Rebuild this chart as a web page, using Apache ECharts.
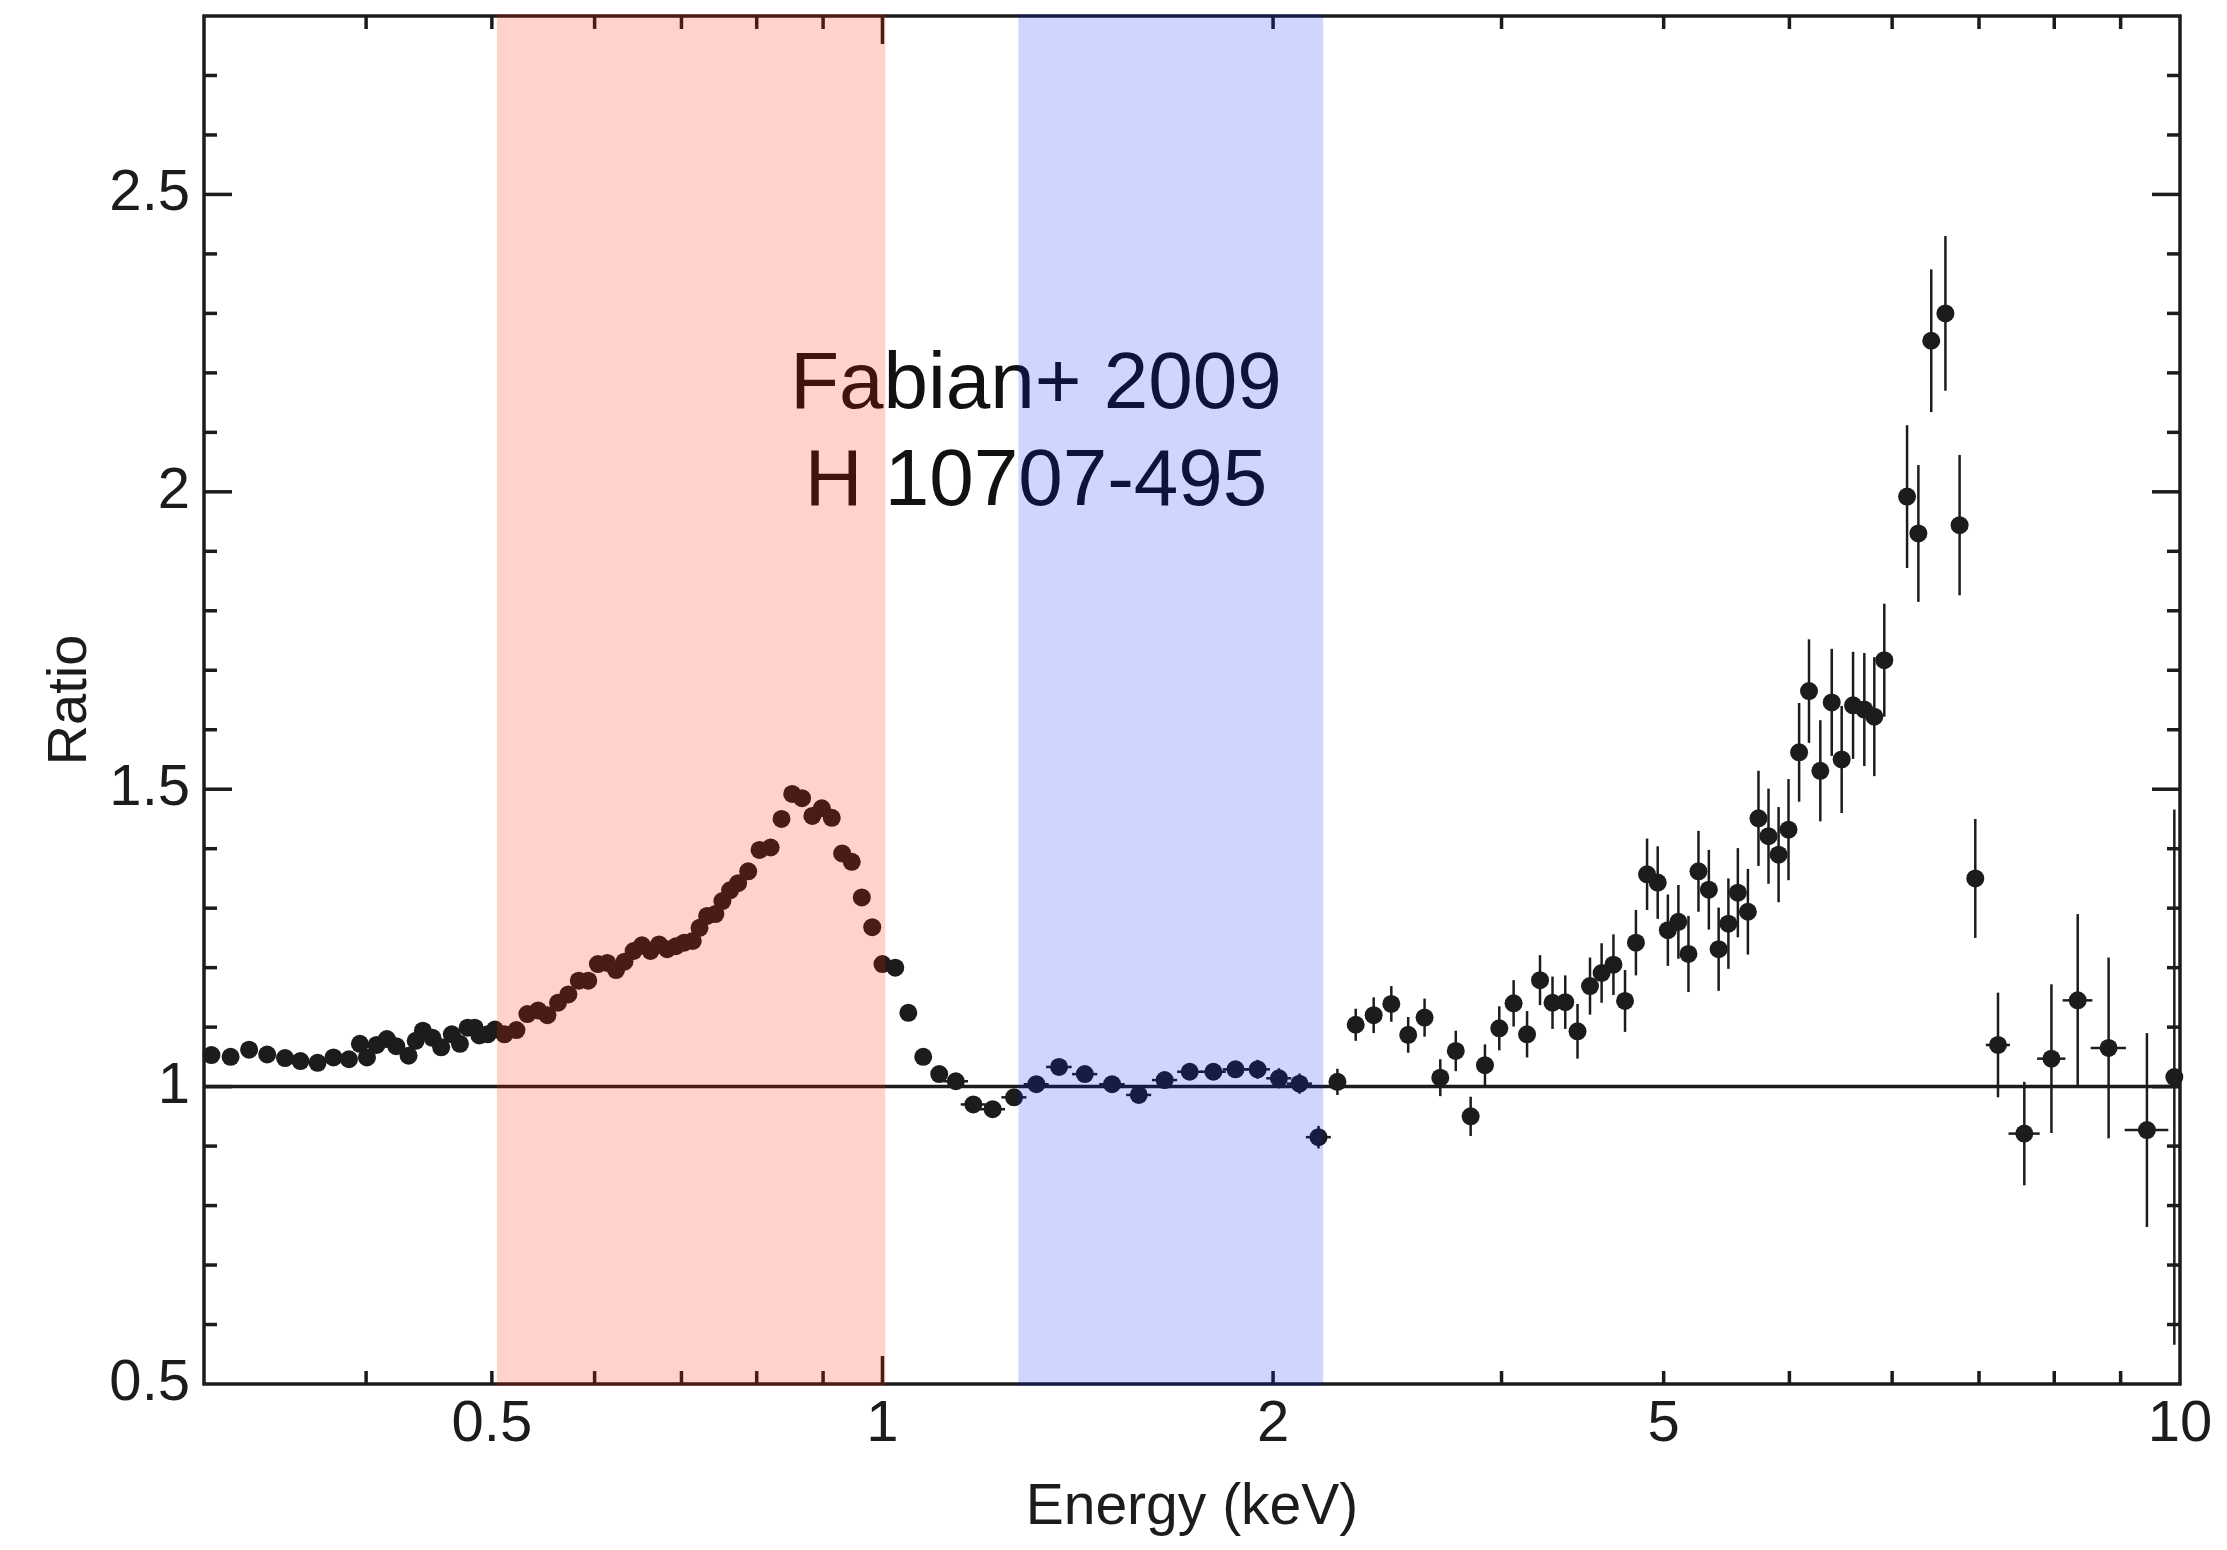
<!DOCTYPE html>
<html>
<head>
<meta charset="utf-8">
<script src="https://cdn.jsdelivr.net/npm/echarts@6/dist/echarts.min.js"></script>
<style>
  html, body { margin: 0; padding: 0; background: #ffffff; }
  #chart { width: 2227px; height: 1550px; }
</style>
</head>
<body>
<div id="chart"></div>
<script>
// Spectral ratio (data / power-law model) vs energy.

// Soft part: statistical errors smaller than the markers
const softEnergy = [0.304, 0.3145, 0.325, 0.3356, 0.3464, 0.356, 0.367, 0.3775, 0.388, 0.3956,
  0.4006, 0.4075, 0.415, 0.422, 0.4313, 0.4368, 0.4424, 0.450, 0.457, 0.4657,
  0.4725, 0.479, 0.485, 0.489, 0.4963, 0.5027, 0.5113, 0.5223, 0.5325, 0.5428,
  0.5518, 0.5623, 0.5727, 0.5834, 0.5933, 0.6035, 0.6137, 0.6233, 0.6327, 0.643,
  0.6526, 0.6626, 0.6727, 0.6825, 0.6931, 0.7034, 0.7142, 0.7228, 0.7326, 0.7434,
  0.7527, 0.763, 0.774, 0.788, 0.804, 0.820, 0.836, 0.852, 0.867, 0.883,
  0.898, 0.914, 0.931, 0.947, 0.964, 0.982, 1.0, 1.023, 1.047, 1.075, 1.106];
const softRatio = [1.053, 1.050, 1.062, 1.054, 1.048, 1.043, 1.040, 1.049, 1.046, 1.072,
  1.049, 1.070, 1.080, 1.068, 1.052, 1.077, 1.094, 1.082, 1.066, 1.088,
  1.072, 1.099, 1.099, 1.086, 1.088, 1.096, 1.088, 1.095, 1.122, 1.128,
  1.120, 1.141, 1.155, 1.178, 1.178, 1.206, 1.208, 1.196, 1.210, 1.228,
  1.2375, 1.228, 1.239, 1.231, 1.236, 1.242, 1.245, 1.267, 1.287, 1.290,
  1.312, 1.330, 1.342, 1.362, 1.398, 1.402, 1.450, 1.492, 1.485, 1.455,
  1.468, 1.452, 1.392, 1.378, 1.318, 1.268, 1.206, 1.200, 1.124, 1.050, 1.021];

// 1.1 - 2.2 keV
const midEnergy = [1.139, 1.175, 1.216, 1.263, 1.314, 1.368, 1.432, 1.503, 1.576, 1.650,
  1.725, 1.799, 1.871, 1.946, 2.021, 2.096, 2.168];
const midRatio = [1.009, 0.970, 0.962, 0.982, 1.004, 1.033, 1.021, 1.004, 0.986, 1.011,
  1.025, 1.025, 1.029, 1.029, 1.014, 1.005, 0.915];
const midErrRatio = [0.006, 0.006, 0.007, 0.008, 0.008, 0.009, 0.009, 0.010, 0.010, 0.011,
  0.012, 0.013, 0.014, 0.016, 0.017, 0.017, 0.019];
const midErrEnergy = [0.025, 0.026, 0.027, 0.028, 0.029, 0.031, 0.032, 0.034, 0.035, 0.037,
  0.038, 0.040, 0.042, 0.043, 0.045, 0.047, 0.048];

// Hard part, 2.2 - 10 keV
const hardEnergy = [2.242, 2.316, 2.391, 2.467, 2.542, 2.617, 2.691, 2.766, 2.840, 2.913,
  2.988, 3.065, 3.139, 3.212, 3.284, 3.359, 3.433, 3.510, 3.583, 3.659,
  3.735, 3.808, 3.884, 3.958, 4.030, 4.106, 4.180, 4.255, 4.334, 4.410,
  4.487, 4.563, 4.645, 4.733, 4.818, 4.905, 4.992, 5.087, 5.177, 5.282,
  5.390, 5.486, 5.598, 5.711, 5.813, 5.917, 6.161, 6.286, 6.431, 6.595,
  6.763, 6.954, 7.240, 7.586, 7.960, 8.340, 8.810, 9.430, 9.900];
const hardRatio = [1.008, 1.104, 1.120, 1.139, 1.087, 1.116, 1.015, 1.060, 0.950, 1.036,
  1.098, 1.140, 1.088, 1.179, 1.141, 1.142, 1.093, 1.169, 1.191, 1.205,
  1.144, 1.242, 1.357, 1.343, 1.263, 1.277, 1.223, 1.362, 1.331, 1.231,
  1.274, 1.326, 1.294, 1.451, 1.421, 1.390, 1.432, 1.562, 1.665, 1.531,
  1.646, 1.550, 1.641, 1.634, 1.622, 1.717, 1.992, 1.930, 2.254, 2.300,
  1.944, 1.350, 1.070, 0.921, 1.047, 1.145, 1.065, 0.927, 1.016];
const hardErrRatio = [0.022, 0.027, 0.030, 0.030, 0.030, 0.032, 0.031, 0.034, 0.033, 0.035,
  0.037, 0.039, 0.039, 0.042, 0.044, 0.045, 0.046, 0.048, 0.050, 0.051,
  0.052, 0.055, 0.060, 0.061, 0.060, 0.062, 0.064, 0.068, 0.067, 0.070,
  0.076, 0.075, 0.072, 0.080, 0.080, 0.080, 0.085, 0.083, 0.087, 0.085,
  0.090, 0.090, 0.090, 0.095, 0.100, 0.095, 0.120, 0.115, 0.120, 0.130,
  0.118, 0.100, 0.088, 0.087, 0.125, 0.145, 0.152, 0.163, 0.450];
const hardErrEnergy = [0.032, 0.032, 0.032, 0.032, 0.032, 0.032, 0.032, 0.032, 0.032, 0.032,
  0.032, 0.032, 0.032, 0.032, 0.032, 0.032, 0.032, 0.032, 0.032, 0.032,
  0.032, 0.032, 0.032, 0.032, 0.032, 0.032, 0.032, 0.032, 0.032, 0.032,
  0.032, 0.032, 0.032, 0.032, 0.032, 0.032, 0.032, 0.048, 0.048, 0.048,
  0.048, 0.048, 0.048, 0.048, 0.048, 0.048, 0.062, 0.070, 0.075, 0.080,
  0.085, 0.100, 0.155, 0.210, 0.200, 0.220, 0.275, 0.365, 0.120];

// Shaded energy bands [lo, hi] in keV
const bandRanges = [[0.5045, 1.005], [1.273, 2.186]];
const bandColors = ['rgba(255, 30, 0, 0.2)', 'rgba(0, 34, 240, 0.19)'];

// Axes
const xRange = [0.3, 10];
const yRange = [0.5, 2.8];
const unityLevel = 1;
const xMajorTicks = [1];
const xMinorTicks = [0.4, 0.5, 0.6, 0.7, 0.8, 0.9, 2, 3, 4, 5, 6, 7, 8, 9];
const xLabelValues = [0.5, 1, 2, 4, 10];
const xLabelTexts = ['0.5', '1', '2', '5', '10'];
const yMajorTicks = [1, 1.5, 2, 2.5];
const yMinorTicks = [0.6, 0.7, 0.8, 0.9, 1.1, 1.2, 1.3, 1.4, 1.6, 1.7, 1.8, 1.9,
  2.1, 2.2, 2.3, 2.4, 2.6, 2.7];
const yLabelValues = [0.5, 1, 1.5, 2, 2.5];

const annotationLines = ['Fabian+ 2009', 'H 10707-495'];

const FONT = '"Liberation Sans", Arial, Helvetica, sans-serif';
const INK = '#1c1c1c';
const TICK_W = 3.5;
const MAJOR_LEN = 28;
const MINOR_LEN = 13;

const allPoints = []
  .concat(softEnergy.map((e, i) => [e, softRatio[i]]))
  .concat(midEnergy.map((e, i) => [e, midRatio[i]]))
  .concat(hardEnergy.map((e, i) => [e, hardRatio[i]]));

const errorRows = []
  .concat(midEnergy.map((e, i) => [e, midRatio[i], midErrRatio[i], midErrEnergy[i]]))
  .concat(hardEnergy.map((e, i) => [e, hardRatio[i], hardErrRatio[i], hardErrEnergy[i]]));

function renderErrorBar(params, api) {
  const x = api.value(0), y = api.value(1), ey = api.value(2), ex = api.value(3);
  const top = api.coord([x, y + ey]);
  const bot = api.coord([x, y - ey]);
  const lft = api.coord([x - ex, y]);
  const rgt = api.coord([x + ex, y]);
  const style = { stroke: INK, lineWidth: 2.5 };
  return {
    type: 'group',
    children: [
      { type: 'line', shape: { x1: top[0], y1: top[1], x2: bot[0], y2: bot[1] }, style: style },
      { type: 'line', shape: { x1: lft[0], y1: lft[1], x2: rgt[0], y2: rgt[1] }, style: style }
    ]
  };
}

function renderFrameTicks(params, api) {
  const els = [];
  const seg = (a, b) => els.push({
    type: 'line',
    shape: { x1: a[0], y1: a[1], x2: b[0], y2: b[1] },
    style: { stroke: INK, lineWidth: TICK_W }
  });
  const xTick = (v, len) => {
    const b = api.coord([v, yRange[0]]);
    const t = api.coord([v, yRange[1]]);
    seg(b, [b[0], b[1] - len]);
    seg(t, [t[0], t[1] + len]);
  };
  const yTick = (v, len) => {
    const l = api.coord([xRange[0], v]);
    const r = api.coord([xRange[1], v]);
    seg(l, [l[0] + len, l[1]]);
    seg(r, [r[0] - len, r[1]]);
  };
  xMajorTicks.forEach(v => xTick(v, MAJOR_LEN));
  xMinorTicks.forEach(v => xTick(v, MINOR_LEN));
  yMajorTicks.forEach(v => yTick(v, MAJOR_LEN));
  yMinorTicks.forEach(v => yTick(v, MINOR_LEN));
  xLabelValues.forEach((v, i) => {
    const p = api.coord([v, yRange[0]]);
    els.push({
      type: 'text',
      x: p[0],
      y: p[1] + 12,
      style: {
        text: xLabelTexts[i], fill: INK, fontSize: 58, fontFamily: FONT,
        align: 'center', verticalAlign: 'top'
      }
    });
  });
  return { type: 'group', children: els };
}

function renderBand(params, api) {
  const lo = api.value(0), hi = api.value(1);
  const a = api.coord([lo, yRange[1]]);
  const b = api.coord([hi, yRange[0]]);
  return {
    type: 'rect',
    shape: { x: a[0], y: a[1] - 2, width: b[0] - a[0], height: b[1] - a[1] + 4 },
    style: { fill: bandColors[params.dataIndex] }
  };
}

const chart = echarts.init(document.getElementById('chart'), null, { renderer: 'canvas' });

chart.setOption({
  animation: false,
  backgroundColor: '#ffffff',
  grid: {
    left: 204, top: 16, width: 1976, height: 1368,
    show: true, borderColor: INK, borderWidth: 3.5, backgroundColor: 'transparent'
  },
  xAxis: {
    type: 'log', logBase: 10, min: xRange[0], max: xRange[1],
    axisLine: { show: false }, axisTick: { show: false },
    axisLabel: { show: false }, splitLine: { show: false },
    name: 'Energy (keV)', nameLocation: 'middle', nameGap: 96,
    nameTextStyle: { fontSize: 57, fontFamily: FONT, color: INK }
  },
  yAxis: {
    type: 'value', min: yRange[0], max: yRange[1], interval: 0.5,
    axisLine: { show: false }, axisTick: { show: false }, splitLine: { show: false },
    axisLabel: {
      margin: 14, fontSize: 58, fontFamily: FONT, color: INK,
      formatter: v => (yLabelValues.some(t => Math.abs(t - v) < 1e-9) ? String(v) : '')
    },
    name: 'Ratio', nameLocation: 'middle', nameGap: 104, nameRotate: 90,
    nameTextStyle: { fontSize: 56, fontFamily: FONT, color: INK }
  },
  graphic: annotationLines.map((t, i) => ({
    type: 'text',
    z: 3,
    x: 1036,
    y: 386 + i * 97,
    style: {
      text: t, fill: '#111111', fontSize: 80, fontFamily: FONT,
      align: 'center', verticalAlign: 'middle'
    }
  })),
  series: [
    {
      name: 'frame ticks', type: 'custom', coordinateSystem: 'cartesian2d',
      data: [[1, 1]], renderItem: renderFrameTicks, clip: false, silent: true, z: 4
    },
    {
      name: 'unity', type: 'line', data: [[xRange[0], unityLevel], [xRange[1], unityLevel]],
      symbol: 'none', lineStyle: { color: INK, width: 3.5 }, silent: true, z: 4
    },
    {
      name: 'errors', type: 'custom', coordinateSystem: 'cartesian2d',
      data: errorRows, renderItem: renderErrorBar, clip: true, silent: true, z: 5
    },
    {
      name: 'ratio', type: 'scatter', data: allPoints, symbol: 'circle', symbolSize: 18,
      itemStyle: { color: INK, opacity: 1 }, silent: true, z: 6
    },
    {
      name: 'bands', type: 'custom', coordinateSystem: 'cartesian2d',
      data: bandRanges, renderItem: renderBand, clip: false, silent: true, z: 10
    }
  ]
});
</script>
</body>
</html>
